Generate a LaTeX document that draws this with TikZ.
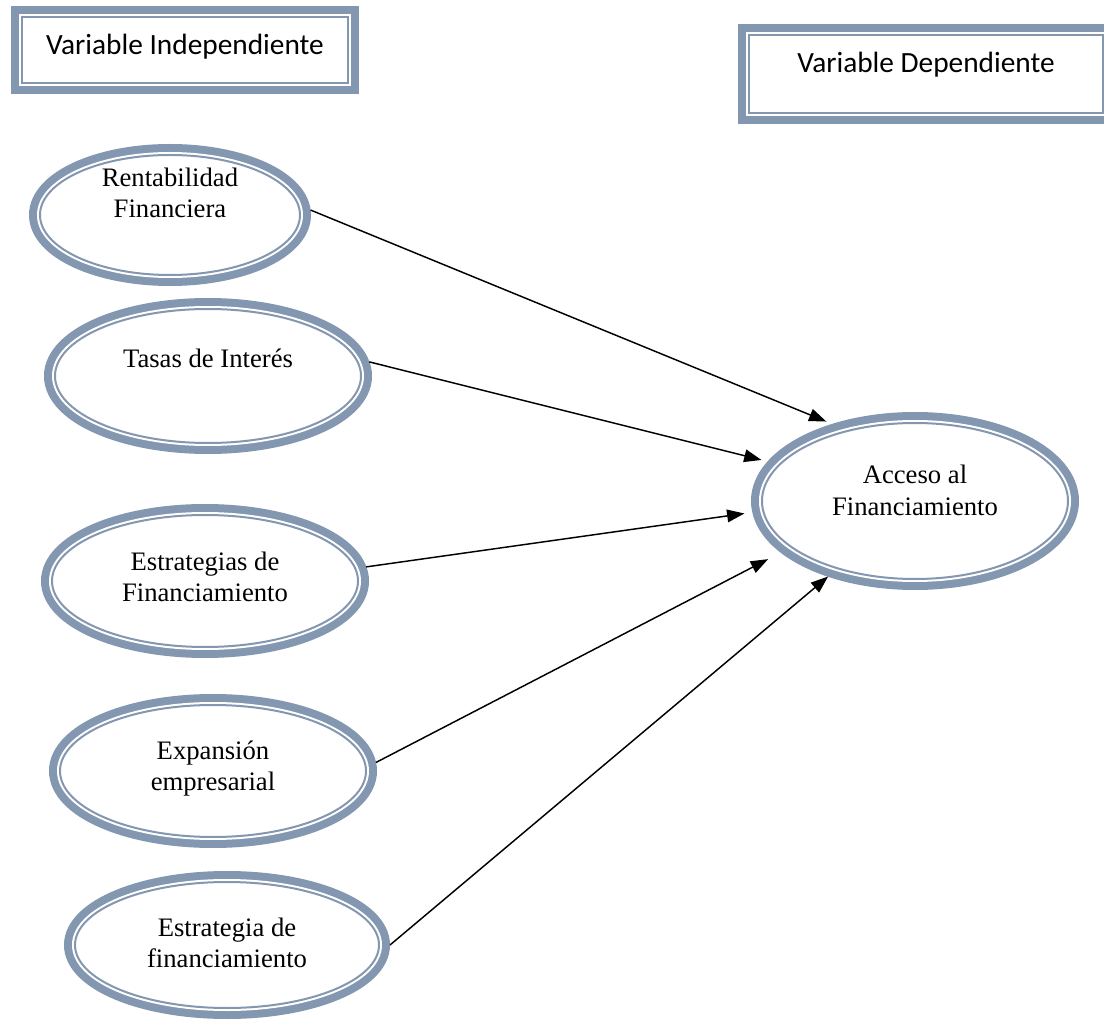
\documentclass[tikz,border=0pt]{standalone}
\usepackage{fontspec}
\setmainfont{Liberation Serif}
\newfontfamily\boxfont{Carlito}
\usetikzlibrary{arrows.meta,shapes.geometric}
\definecolor{slate}{RGB}{132,151,176}
\tikzset{
  >={Triangle[length=13pt,width=9.5pt]},
  % thick outer band, white gap, thin inner line
  frame/.style={fill=white,draw=white,line width=4.5pt,
    preaction={draw=#1,line width=16.5pt},
    postaction={draw=#1,line width=1.5pt}},
  frame/.default=slate,
  varbox/.style={frame,rectangle,inner sep=0pt,outer sep=8.25pt,
    font=\boxfont\fontsize{22}{26}\selectfont},
  oval/.style={frame,ellipse,inner sep=0pt,outer sep=8.25pt},
  ovaltext/.style={align=center,inner sep=0pt,font=\fontsize{20}{23.5}\selectfont},
  link/.style={->,line width=1.1pt,black},
}
\begin{document}
\begin{tikzpicture}[x=0.75pt,y=-0.75pt]
  \useasboundingbox (0,0) rectangle (1104,1023);
  % headers
  \node[varbox,minimum width=244.5pt,minimum height=49.5pt,text depth=9pt] (vind) at (185,50) {Variable Independiente};
  \node[varbox,minimum width=265.5pt,minimum height=58.5pt,text depth=18pt] (vdep) at (926,74) {Variable Dependiente};
  % independent variables
  \node[oval,minimum width=195pt,minimum height=90pt,
    label={[ovaltext,yshift=16.5pt]center:Rentabilidad\\Financiera}] (rent) at (170,215) {};
  \node[oval,minimum width=229.5pt,minimum height=100.5pt,
    label={[ovaltext,yshift=13.5pt]center:Tasas de Interés}] (tasa) at (208,376) {};
  \node[oval,minimum width=229.5pt,minimum height=99pt,
    label={[ovaltext,yshift=3pt]center:Estrategias de\\Financiamiento}] (estr) at (205,581) {};
  \node[oval,minimum width=229.5pt,minimum height=99pt,
    label={[ovaltext,yshift=2pt]center:Expansión\\empresarial}] (expa) at (213,771) {};
  \node[oval,minimum width=228pt,minimum height=94.5pt,
    label={[ovaltext,yshift=1.5pt]center:Estrategia de\\financiamiento}] (estf) at (227,945) {};
  % dependent variable
  \node[oval,minimum width=229.5pt,minimum height=117pt,
    label={[ovaltext,yshift=8pt]center:Acceso al\\Financiamiento}] (acc) at (915,501) {};
  \foreach \src/\a/\b/\s in {rent/2/137/5,tasa/5/165/5,estr/5/184/6,expa/3/201/11,estf/0/221/0}
    \draw[link,shorten >=\s pt] (\src.\a) -- (acc.\b);
\end{tikzpicture}
\end{document}
